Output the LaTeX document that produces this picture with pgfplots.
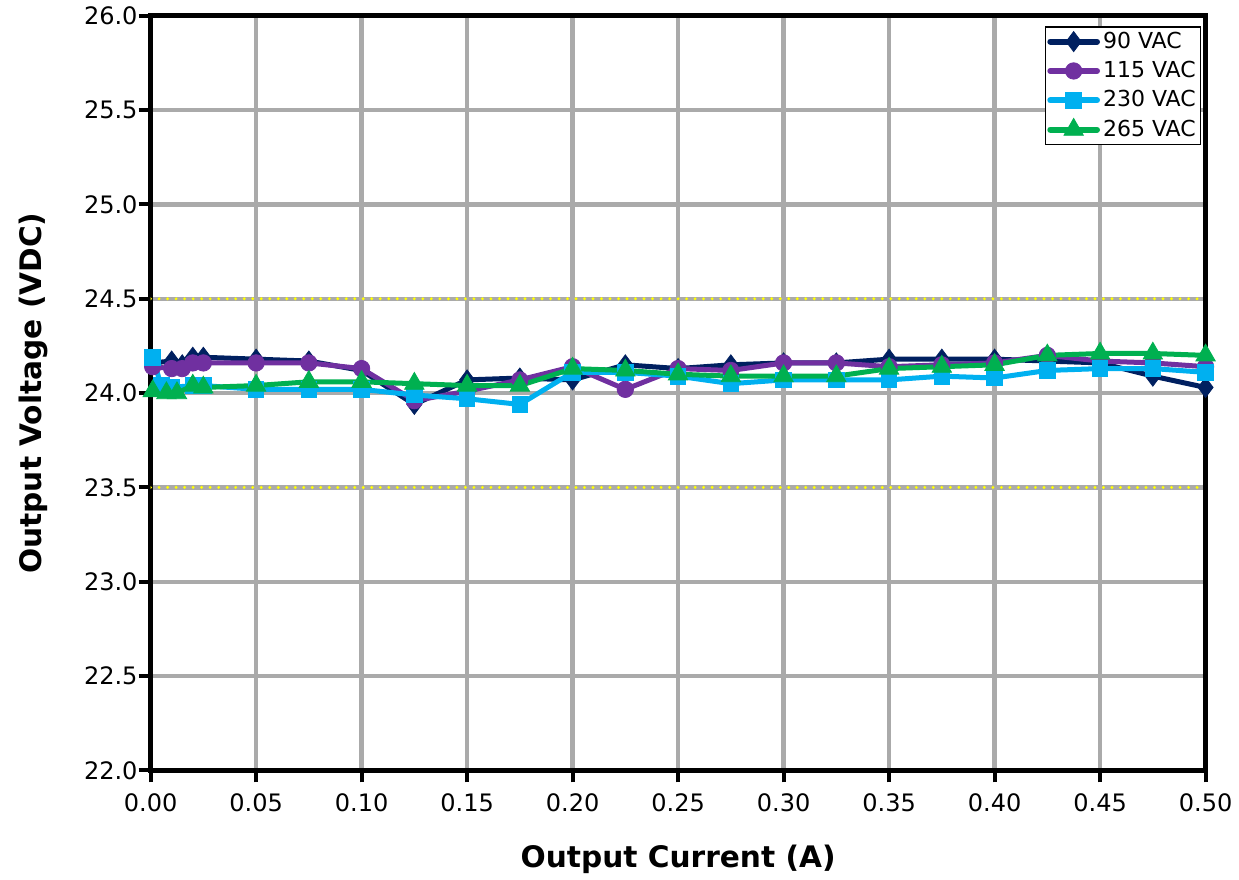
\documentclass[border=0pt]{standalone}
\usepackage{pgfplots}
\pgfplotsset{compat=1.18}
\usepackage{fontspec}
\setmainfont{DejaVu Sans}
\definecolor{c90}{RGB}{0,32,96}
\definecolor{c115}{RGB}{112,48,160}
\definecolor{c230}{RGB}{0,176,240}
\definecolor{c265}{RGB}{0,176,80}
\definecolor{gridgray}{RGB}{170,170,170}
\definecolor{yel}{RGB}{255,255,0}
\begin{document}
\begin{tikzpicture}
\begin{axis}[
  scale only axis,
  width=527pt, height=377pt,
  xmin=0, xmax=0.5, ymin=22, ymax=26,
  xtick={0,0.05,...,0.5}, ytick={22,22.5,...,26},
  xtick pos=left, ytick pos=left,
  /pgf/number format/assume math mode=true,
  xticklabel style={yshift=-2pt,/pgf/number format/.cd,fixed,fixed zerofill,precision=2},
  yticklabel style={xshift=3pt,/pgf/number format/.cd,fixed,fixed zerofill,precision=1},
  ticklabel style={font=\fontsize{12}{14}\selectfont},
  grid=major,
  major grid style={gridgray, line width=2.2pt},
  axis line style={black, line width=2.5pt},
  tick style={black, line width=2pt},
  tick align=outside, major tick length=6pt,
  xlabel={\textbf{Output Current (A)}},
  ylabel={\textbf{Output Voltage (VDC)}},
  label style={font=\fontsize{14.8}{16}\selectfont},
  xlabel style={yshift=-10.8pt, inner ysep=2.5pt},
  ylabel style={yshift=5pt, inner ysep=9.5pt},
  legend style={at={(0.996,0.986)}, anchor=north east, draw=black, line width=0.6pt,
    font=\fontsize{11}{13}\selectfont, inner sep=1pt, row sep=2pt,
    nodes={inner sep=1.5pt}},
  legend cell align=left,
  legend image code/.code={\draw[#1, line width=3pt, line cap=round] (0cm,0cm) -- (0.82cm,0cm); \draw[#1, mark repeat=1] plot coordinates {(0.41cm,0cm)};},
]
\addplot[yel, line width=1.6pt, line cap=round, dash pattern={on 0pt off 4.25pt}, forget plot] coordinates {(0,24.5) (0.5,24.5)};
\addplot[yel, line width=1.6pt, line cap=round, dash pattern={on 0pt off 4.25pt}, forget plot] coordinates {(0,23.5) (0.5,23.5)};
\addplot[c90, line width=2.5pt, mark=diamond*, mark size=5pt, mark options={line width=0.4pt}] coordinates {
(0.001,24.16) (0.01,24.17) (0.015,24.15) (0.02,24.19) (0.025,24.19) (0.05,24.18) (0.075,24.17) (0.1,24.12)
(0.125,23.94) (0.15,24.07) (0.175,24.08) (0.2,24.07) (0.225,24.15) (0.25,24.13) (0.275,24.15) (0.3,24.16)
(0.325,24.16) (0.35,24.18) (0.375,24.18) (0.4,24.18) (0.425,24.17) (0.45,24.16) (0.475,24.09) (0.5,24.03)};
\addlegendentry{90 VAC}
\addplot[c115, line width=2.5pt, mark=*, mark size=4.1pt, mark options={line width=0.4pt}] coordinates {
(0.001,24.14) (0.01,24.13) (0.015,24.13) (0.02,24.16) (0.025,24.16) (0.05,24.16) (0.075,24.16) (0.1,24.13)
(0.125,23.96) (0.15,24.01) (0.175,24.07) (0.2,24.14) (0.225,24.02) (0.25,24.13) (0.275,24.12) (0.3,24.16)
(0.325,24.16) (0.35,24.14) (0.375,24.15) (0.4,24.16) (0.425,24.20) (0.45,24.17) (0.475,24.16) (0.5,24.14)};
\addlegendentry{115 VAC}
\addplot[c230, line width=2.5pt, mark=square*, mark size=3.9pt, mark options={line width=0.4pt}] coordinates {
(0.001,24.19) (0.005,24.04) (0.01,24.03) (0.02,24.04) (0.025,24.04) (0.05,24.02) (0.075,24.02) (0.1,24.02)
(0.125,23.99) (0.15,23.97) (0.175,23.94) (0.2,24.11) (0.225,24.11) (0.25,24.09) (0.275,24.05) (0.3,24.07)
(0.325,24.07) (0.35,24.07) (0.375,24.09) (0.4,24.08) (0.425,24.12) (0.45,24.13) (0.475,24.13) (0.5,24.11)};
\addlegendentry{230 VAC}
\addplot[c265, line width=2.5pt, mark=triangle*, mark size=5.6pt, mark options={line width=0.4pt}] coordinates {
(0.001,24.01) (0.0075,24.00) (0.0125,24.00) (0.02,24.04) (0.025,24.03) (0.05,24.04) (0.075,24.06) (0.1,24.06)
(0.125,24.05) (0.15,24.04) (0.175,24.04) (0.2,24.13) (0.225,24.12) (0.25,24.10) (0.275,24.09) (0.3,24.09)
(0.325,24.09) (0.35,24.13) (0.375,24.14) (0.4,24.15) (0.425,24.20) (0.45,24.21) (0.475,24.21) (0.5,24.20)};
\addlegendentry{265 VAC}
\end{axis}
\end{tikzpicture}
\end{document}
